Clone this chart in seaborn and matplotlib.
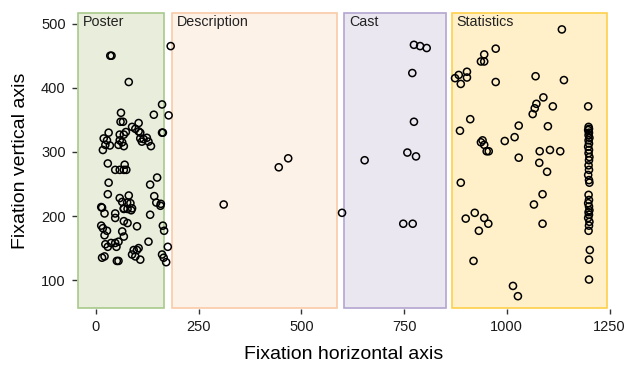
import numpy as np
import pandas as pd
import matplotlib
matplotlib.use("Agg")
import matplotlib.pyplot as plt
from matplotlib.patches import Rectangle
import seaborn as sns

# Areas of interest on the screen (x0, x1, y0, y1)
aoi_names = ["Poster", "Description", "Cast", "Statistics"]
aoi_x0 = [-44, 184, 604, 866]
aoi_x1 = [166, 587, 852, 1245]
aoi_y0 = [57, 57, 57, 57]
aoi_y1 = [516, 516, 516, 516]
aoi_fill = ["#e9eddb", "#fdf2e8", "#ebe7f1", "#fff0c9"]
aoi_edge = ["#a9c98c", "#f9cba8", "#b3a5cf", "#fdd04a"]

# Fixation coordinates
poster_x = [35, 38, 80, 182, 161, 141, 177, 61, 60, 66, 104, 88, 96, 104, 108,
            31, 58, 68, 73, 19, 27, 34, 23, 58, 64, 68, 55, 17, 108, 116, 124,
            128, 134, 112, 161, 163, 29, 47, 58, 68, 74, 70, 31, 29, 132, 149,
            58, 64, 80, 76, 84, 88, 68, 13, 142, 147, 158, 15, 21, 47, 47, 68,
            77, 86, 132, 157, 68, 77, 100, 13, 17, 27, 21, 64, 68, 163, 166,
            23, 29, 37, 47, 50, 55, 128, 92, 100, 104, 88, 96, 108, 175, 161,
            165, 171, 15, 21, 51, 55]
poster_y = [450, 450, 409, 465, 374, 358, 357, 361, 347, 347, 345, 339, 336, 332,
            330, 330, 327, 327, 331, 321, 318, 310, 311, 318, 315, 309, 311, 303,
            321, 320, 322, 316, 309, 316, 330, 330, 282, 272, 272, 272, 272, 280,
            252, 234, 249, 260, 228, 222, 232, 221, 220, 212, 212, 214, 231, 221,
            219, 213, 204, 204, 197, 211, 211, 209, 202, 216, 192, 189, 184, 185,
            181, 177, 170, 176, 168, 185, 177, 156, 152, 158, 158, 152, 160, 160,
            147, 147, 150, 140, 137, 132, 152, 140, 135, 128, 135, 137, 130, 130]

description_x = [311, 445, 468, 599]
description_y = [218, 276, 290, 205]

cast_x = [774, 789, 805, 770, 774, 758, 779, 654, 748, 771]
cast_y = [467, 465, 462, 423, 347, 299, 293, 287, 188, 188]

statistics_x = [1134, 973, 945, 937, 945, 874, 883, 888, 903, 903, 973, 1070,
                1139, 1089, 1072, 1068, 1063, 1112, 911, 886, 1029, 1100, 1019,
                995, 937, 941, 945, 951, 956, 1080, 1105, 1130, 1029, 1079, 1098,
                888, 1087, 1066, 922, 900, 945, 955, 932, 1087, 919, 1015, 1027,
                1198, 1199, 1200, 1198, 1200, 1199, 1201, 1199, 1200, 1198, 1200,
                1199, 1201, 1200, 1199, 1200, 1198, 1200, 1201, 1199, 1200, 1198,
                1200, 1201, 1199, 1200, 1198, 1201, 1200, 1199, 1202, 1200, 1200]
statistics_y = [491, 461, 452, 441, 441, 415, 420, 406, 425, 416, 409, 418, 412,
                385, 375, 368, 359, 371, 351, 333, 341, 340, 323, 317, 315, 318,
                311, 301, 301, 301, 303, 301, 291, 283, 269, 252, 234, 218, 205,
                196, 197, 188, 177, 188, 130, 91, 75,
                371, 339, 336, 334, 330, 326, 322, 318, 313, 308, 303, 298, 292,
                287, 279, 272, 264, 256, 252, 233, 225, 220, 215, 209, 206, 202,
                197, 191, 185, 177, 147, 132, 101]

fix = pd.DataFrame({
    "x": poster_x + description_x + cast_x + statistics_x,
    "y": poster_y + description_y + cast_y + statistics_y,
})

sns.set_theme(style="white")
plt.rcParams["font.family"] = ["Liberation Sans", "DejaVu Sans"]

fig = plt.figure(figsize=(6.28, 3.67), dpi=100)
ax = fig.add_axes([0.1226, 0.158, 0.848, 0.809])

for name, x0, x1, y0, y1, fc, ec in zip(aoi_names, aoi_x0, aoi_x1, aoi_y0,
                                        aoi_y1, aoi_fill, aoi_edge):
    ax.add_patch(Rectangle((x0, y0), x1 - x0, y1 - y0, facecolor=fc,
                           edgecolor=ec, linewidth=1.2, zorder=1))
    ax.text(x0 + 12, y1 - 3, name, ha="left", va="top", fontsize=10.3,
            color="#222222", zorder=2)

sns.scatterplot(data=fix, x="x", y="y", ax=ax, marker="o", s=26,
                facecolor="none", edgecolor="black", linewidth=1.1, zorder=3)

ax.set_xlim(-46, 1250)
ax.set_ylim(55, 518)
ax.set_xticks([0, 250, 500, 750, 1000, 1250])
ax.set_yticks([100, 200, 300, 400, 500])
for s in ax.spines.values():
    s.set_visible(False)
ax.tick_params(axis="both", which="major", length=3.6, width=1.0,
               color="#333333", labelsize=10.5, labelcolor="#1a1a1a",
               bottom=True, left=True, pad=4.5)
ax.set_xlabel("Fixation horizontal axis", fontsize=14, color="black",
              labelpad=8.5)
ax.set_ylabel("Fixation vertical axis", fontsize=14, color="black",
              labelpad=8.5)
ax.set_facecolor("white")
fig.patch.set_facecolor("white")

fig.savefig("out.png", dpi=100)
